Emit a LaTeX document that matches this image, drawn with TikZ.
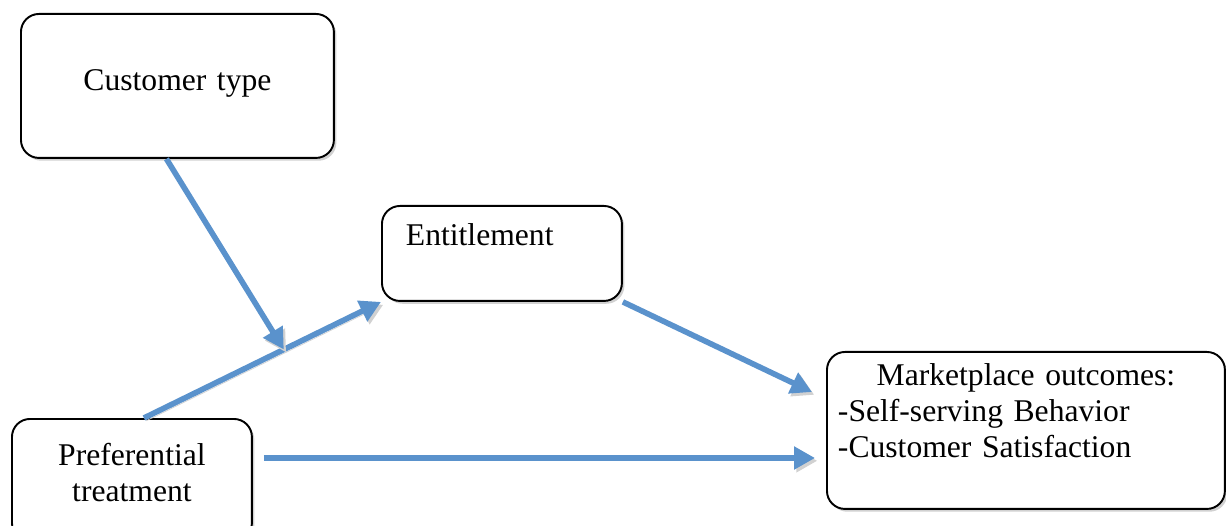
\documentclass[tikz,border=0pt]{standalone}
\usepackage{fontspec}
\setmainfont{Liberation Serif}
\usepackage{xcolor}
\usetikzlibrary{arrows.meta,calc,shadows}
\definecolor{flowblue}{RGB}{90,146,204}

\begin{document}
\begin{tikzpicture}[
  x=0.02cm,y=-0.02cm,
  factor/.style={draw,fill=white,line width=1.1pt,rounded corners=0.36cm,
    inner sep=0pt,anchor=north west,
    font=\fontsize{18pt}{20.3pt}\selectfont,
    drop shadow={shadow xshift=1.4pt,shadow yshift=-1.6pt,fill=black!18,opacity=1}},
  effect/.style={-{Triangle[length=0.42cm,width=0.44cm]},line width=3.2pt,
    draw=flowblue,
    preaction={draw=black!18,transform canvas={shift={(1.3pt,-1.6pt)}}}}]
\useasboundingbox (0,0) rectangle (1226,526);
\node[factor,align=center,text width=6.26cm,text height=1.54cm,text depth=1.34cm]
  (ctype) at (20,13) {Customer type};
\node[factor,align=left,text width=3.84cm,inner xsep=0.48cm,text height=0.8cm,text depth=1.1cm]
  (entitle) at (381,205) {Entitlement};
\node[factor,align=center,text width=4.8cm,text height=0.94cm,text depth=1.5cm]
  (pref) at (11,418) {Preferential\\treatment};
\node[factor,text width=7.52cm,inner xsep=0.22cm,text height=0.68cm,text depth=2.46cm]
  (market) at (826,351) {{\centering Marketplace outcomes:\par}%
  -Self-serving Behavior\\-Customer Satisfaction};
\draw[effect] ($(pref.north)+(12,0)$) -- coordinate[pos=0.59] (moderate) (entitle.south west);
\draw[effect] ($(ctype.south)+(-11,0)$) -- (moderate);
\draw[effect] (entitle.south east) -- ($(market.north west)+(-14,41)$);
\draw[effect] ($(pref.north east)+(11,40)$) -- ($(market.north west)+(-11,107)$);
\end{tikzpicture}
\end{document}
